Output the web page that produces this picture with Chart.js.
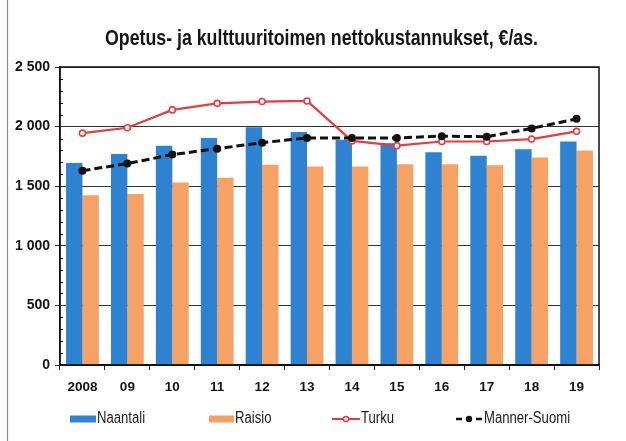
<!DOCTYPE html>
<html>
<head>
<meta charset="utf-8">
<script src="https://cdn.jsdelivr.net/npm/chart.js@4/dist/chart.umd.min.js"></script>
<style>
html,body{margin:0;padding:0;background:#fff;}
#wrap{position:relative;width:626px;height:441px;}
</style>
</head>
<body>
<div id="wrap"><canvas id="c" width="626" height="441"></canvas></div>
<script>
const categories = ['2008','09','10','11','12','13','14','15','16','17','18','19'];
const naantali = [1695,1770,1840,1905,1995,1955,1890,1860,1785,1755,1810,1875];
const raisio   = [1425,1435,1530,1570,1680,1665,1665,1685,1685,1675,1740,1800];
const turku    = [1945,1990,2140,2195,2210,2215,1880,1840,1875,1875,1895,1960];
const mannerSuomi = [1630,1690,1765,1815,1865,1905,1905,1905,1920,1915,1985,2065];
const yTickLabels = ['0','500','1 000','1 500','2 000','2 500'];
const seriesNames = ['Naantali','Raisio','Turku','Manner-Suomi'];
const titleText = 'Opetus- ja kulttuuritoimen nettokustannukset, €/as.';

const FONT = "'Liberation Sans',Arial,sans-serif";
const BLUE = '#2e82d2', ORANGE = '#f6a264', RED = '#e63c40', BLACK = '#111111';

function narrowText(ctx, text, x, y, scale) {
  ctx.save();
  ctx.translate(x, y);
  ctx.scale(scale, 1);
  ctx.fillText(text, 0, 0);
  ctx.restore();
}

const framePlugin = {
  id: 'frame',
  beforeDraw(chart) {
    const ctx = chart.ctx;
    ctx.save();
    ctx.strokeStyle = '#8a8a8a';
    ctx.lineWidth = 1.2;
    ctx.beginPath(); ctx.moveTo(7.5, 0); ctx.lineTo(7.5, 441); ctx.stroke();
    ctx.font = "bold 22px " + FONT;
    ctx.fillStyle = '#151515';
    ctx.textBaseline = 'middle';
    ctx.textAlign = 'left';
    const w = ctx.measureText(titleText).width;
    const s = 433 / w;
    narrowText(ctx, titleText, 321.5 - 433 / 2, 39, s);
    ctx.restore();
  },
  afterDatasetsDraw(chart) {
    const ctx = chart.ctx, a = chart.chartArea, y = chart.scales.y;
    ctx.save();
    ctx.strokeStyle = '#111';
    ctx.lineWidth = 1.5;
    ctx.strokeRect(a.left, a.top, a.right - a.left, a.bottom - a.top);
    ctx.lineWidth = 1;
    for (let v = 100; v < 2500; v += 100) {
      if (v % 500 === 0) continue;
      const py = Math.round(y.getPixelForValue(v)) + 0.5;
      ctx.beginPath(); ctx.moveTo(a.left, py); ctx.lineTo(a.left + 3, py); ctx.stroke();
    }
    ctx.restore();
  },
  afterDraw(chart) {
    const ctx = chart.ctx;
    const byName = n => chart.data.datasets.find(d => d.label === n);
    const yy = 419;
    const sc = 0.82;
    ctx.save();
    ctx.font = "16px " + FONT;
    ctx.textBaseline = 'middle';
    ctx.textAlign = 'left';
    ctx.fillStyle = byName('Naantali').backgroundColor; ctx.fillRect(70, yy - 3.5, 26, 7);
    ctx.fillStyle = '#1a1a1a'; narrowText(ctx, seriesNames[0], 97, yy, sc);
    ctx.fillStyle = byName('Raisio').backgroundColor; ctx.fillRect(209, yy - 3.5, 25, 7);
    ctx.fillStyle = '#1a1a1a'; narrowText(ctx, seriesNames[1], 235, yy, sc);
    ctx.strokeStyle = byName('Turku').borderColor; ctx.lineWidth = 2;
    ctx.beginPath(); ctx.moveTo(332, yy); ctx.lineTo(360, yy); ctx.stroke();
    ctx.fillStyle = '#fff'; ctx.lineWidth = 1.5; ctx.beginPath(); ctx.arc(346, yy, 2.6, 0, Math.PI * 2); ctx.fill(); ctx.stroke();
    ctx.fillStyle = '#1a1a1a'; narrowText(ctx, seriesNames[2], 361, yy, sc);
    ctx.strokeStyle = BLACK; ctx.lineWidth = 2.5; ctx.setLineDash([6, 4]);
    ctx.beginPath(); ctx.moveTo(456, yy); ctx.lineTo(483, yy); ctx.stroke();
    ctx.setLineDash([]);
    ctx.fillStyle = BLACK; ctx.beginPath(); ctx.arc(469, yy, 3.2, 0, Math.PI * 2); ctx.fill();
    ctx.fillStyle = '#1a1a1a'; narrowText(ctx, seriesNames[3], 484, yy, sc);
    ctx.restore();
  }
};

new Chart(document.getElementById('c'), {
  type: 'bar',
  data: {
    labels: categories,
    datasets: [
      { type: 'line', label: seriesNames[3], data: mannerSuomi, borderColor: BLACK, backgroundColor: BLACK,
        borderWidth: 3, borderDash: [8, 4], pointRadius: 4, pointBackgroundColor: BLACK, pointBorderColor: BLACK,
        pointBorderWidth: 0, tension: 0, order: 0 },
      { type: 'line', label: seriesNames[2], data: turku, borderColor: RED, backgroundColor: '#fff',
        borderWidth: 2.2, pointRadius: 3, pointBackgroundColor: '#fff', pointBorderColor: RED,
        pointBorderWidth: 1.6, tension: 0, order: 1 },
      { label: seriesNames[0], data: naantali, backgroundColor: BLUE, borderWidth: 0, order: 2,
        categoryPercentage: 0.73, barPercentage: 1.0 },
      { label: seriesNames[1], data: raisio, backgroundColor: ORANGE, borderWidth: 0, order: 3,
        categoryPercentage: 0.73, barPercentage: 1.0 }
    ]
  },
  options: {
    responsive: false,
    animation: false,
    devicePixelRatio: 1,
    layout: { padding: { top: 67, left: 0, right: 27, bottom: 0 } },
    plugins: {
      legend: { display: false },
      tooltip: { enabled: false },
      title: { display: false }
    },
    scales: {
      x: {
        grid: { display: true, offset: true, drawOnChartArea: false, drawTicks: true, tickLength: 5, color: '#222', lineWidth: 1 },
        border: { display: true, color: '#111', width: 1.5 },
        ticks: { color: '#151515', font: { family: FONT, size: 13.5, weight: 'bold' }, padding: 9, maxRotation: 0, autoSkip: false },
        afterFit(s) { s.height = 76; }
      },
      y: {
        min: 0, max: 2500,
        ticks: { stepSize: 500, color: '#151515', font: { family: FONT, size: 14, weight: 'bold' }, padding: 5,
          callback: (v, i) => yTickLabels[i] },
        grid: { color: '#333', lineWidth: 1, tickLength: 5, drawTicks: true },
        border: { display: true, color: '#111', width: 1.5 },
        afterFit(s) { s.width = 60; }
      }
    }
  },
  plugins: [framePlugin]
});
</script>
</body>
</html>
